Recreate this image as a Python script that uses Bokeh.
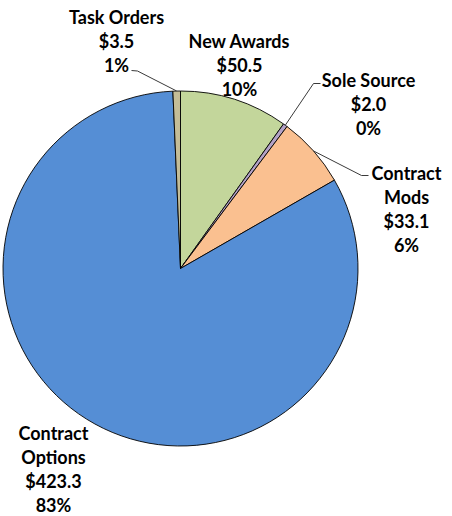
import numpy as np
from bokeh.plotting import figure
from bokeh.models import Range1d
from bokeh.core.properties import value
from bokeh.embed import file_html
from bokeh.resources import INLINE

# ---- data ----
categories = ["New Awards", "Sole Source", "Contract Mods", "Contract Options", "Task Orders"]
values = [50.5, 2.0, 33.1, 423.3, 3.5]
colors = ["#C3D69B", "#B3A2C7", "#FAC090", "#558ED5", "#C4BD97"]
name_lines = [["New Awards"], ["Sole Source"], ["Contract", "Mods"], ["Contract", "Options"], ["Task Orders"]]

# ---- layout (reference pixel space; y downwards) ----
W, H = 452, 516
CX, CY, R = 180.0, 268.0, 177.5
label_anchor = [(239, 40), (368, 79), (406, 172), (53, 432), (116, 16)]
leader_elbows = {1: [(320, 83), (313, 83)], 2: [(368, 175), (361, 175)], 4: [(131, 70), (137, 70.5)]}
LINE_STEP = 24.0

p = figure(width=W, height=H, output_backend="svg", toolbar_location=None,
           x_range=Range1d(0, W), y_range=Range1d(-H, 0), min_border=0,
           outline_line_color=None, background_fill_color="white")
p.axis.visible = False
p.grid.visible = False

vals = np.array(values)
total = vals.sum()
frac = vals / total
cum = np.concatenate([[0], np.cumsum(frac)])
th0 = 2 * np.pi * cum[:-1]
th1 = 2 * np.pi * cum[1:]

p.wedge(x=CX, y=-CY, radius=R,
        start_angle=np.pi / 2 - th0, end_angle=np.pi / 2 - th1, direction="clock",
        fill_color=colors, line_color="#000000", line_width=0.9)

# leader lines
xs, ys = [], []
for i, pts in leader_elbows.items():
    mid = (th0[i] + th1[i]) / 2
    ex = CX + R * np.sin(mid)
    ey = CY - R * np.cos(mid)
    px = [pt[0] for pt in pts] + [ex]
    py = [-pt[1] for pt in pts] + [-ey]
    xs.append(px)
    ys.append(py)
p.multi_line(xs=xs, ys=ys, line_color="#3a3a3a", line_width=1)

# labels
tx, ty, tt = [], [], []
for i, cat in enumerate(categories):
    lines = list(name_lines[i]) + ["$%.1f" % values[i], "%d%%" % round(frac[i] * 100)]
    ax, ay = label_anchor[i]
    for k, s in enumerate(lines):
        tx.append(ax)
        ty.append(-(ay + k * LINE_STEP))
        tt.append(s)
p.text(x=tx, y=ty, text=tt, text_font=value("Lato"), text_font_style="bold",
       text_font_size="18px", text_align="center", text_baseline="middle", text_color="#000000")

open("out.html", "w").write(file_html(p, INLINE))
